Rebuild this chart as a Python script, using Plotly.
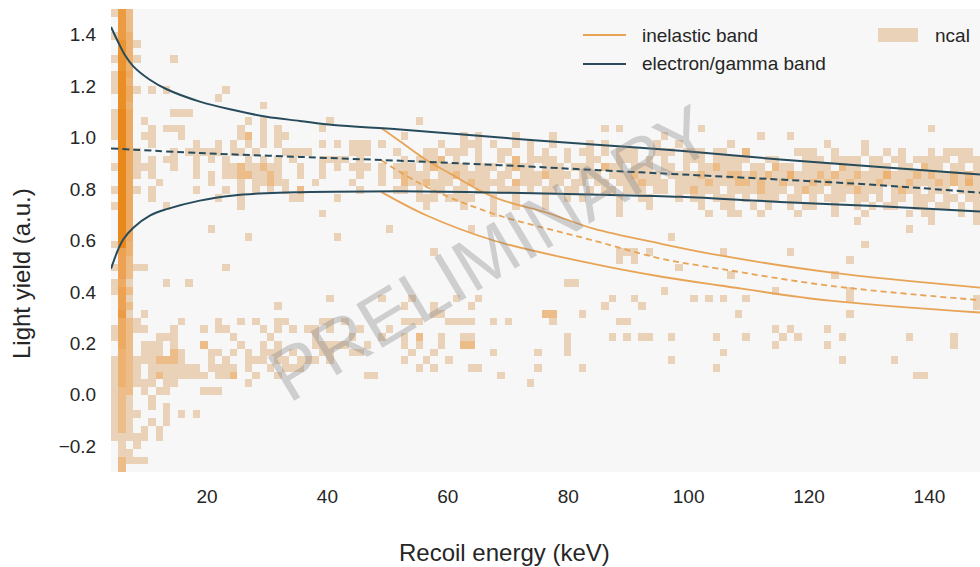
import plotly.graph_objects as go

# ---------------- data ----------------
energy_bin_start = 4.05      # keV, left edge of first histogram column
energy_bin_width = 1.234     # keV
n_energy_bins = 117
ly_bin_top = 1.5             # light yield, top edge of first histogram row
ly_bin_height = 0.03

# ncal 2D histogram, one string per light-yield row (top -> bottom).
# tokens: "col" (1 count), "col:n", "a-b" (range, 1 count), "a-b:n"
ncal_rows = [
    "0 1:6 2:2",
    "1:6 2:2",
    "1:6 2:2",
    "0 1:6 2:3",
    "1:7 2:3 3",
    "1:7 2:3",
    "0 1:7 2:3 3 8",
    "1:7 2:3",
    "0 1:8 2:4",
    "0 1:8 2:3",
    "0 1:8 2:4 3 5 7 15",
    "1:8 2:4 14",
    "1:8 2:3 20",
    "0 1:9 2:4 8-10",
    "0 1:9 2:4 4 18 20 29 41",
    "0 1:9 2:4 5 7-9 17 20 22 28 66 68 79 110",
    "0 1:9 2:4 4-5 9 17 18:2 20 22-23 39 47 49 54 59 74 87 91",
    "1:9 2:4 5 11 14 16 18 20 22 28 30 32-34 36 44 47-49 51 54 56 59 64 66 73 76 83 96 101",
    "1:9 2:4 3 8 10-14 16-17 19 23-26 32-34 38 42-43 45-47 49 52-53 56 58 61 63-64 66 68-70 73-75 77-79 81-82 85:2 92-94 97 101 104 106 110 112-115",
    "1:9 2:4 3 5 7-8 11 13 15 18 20 22 24 28-31 33 39 41-43 44:2 46 49 52 54:2 56-59 61 64-65 68-70 72 74 77-79 81-85 88-89 93-95 97-100 102-103 105-106 108-112 114-116",
    "0 1:9 2:4 3-5 8 11 15-16 17:2 18-19 20:2 21-22 25 28 30 32-34 36 38-40 42 43:2 44-47 49-51 53 54:2 55-56 58-60 62-64 66:2 67-68 70-72 74-75 77 79-80 81:2 82-84 86-87 89:2 90-91 93-96 98:2 99-100 102-104 106-107 109:2 110-111 113-114 116",
    "1:9 2:4 3 5 11 13 15-16 17-18:2 19-20 21:2 22 25 28 33 36 38 39:2 40-42 44-45 46:2 47-50 52-53 55-57 58:2 59-61 63-65 67-69 70:2 71-73 75-78 79:2 80-82 83-84:2 85 86:2 87 88:2 89-90 91:3 92-94 95:2 96 97:2 98-99 100:2 101-103 104:3 105-107 108:2 109 110:2 111-112 113:2 114 115:2 116",
    "1:9 2:4 6 13 17 19-20 21:2 22-23 27 32 36 39:2 40-41 42:2 43-45 47 48:2 49-52 54:2 55-57 59-60 62-63 65-66 68-70 71:2 72-74 76-79 80:2 81-83 84-85:2 86 87:2 88-89 90:2 91-93 94:2 95 96:2 97-98 99:2 100-102 103:2 104-106 107:2 108-110 111:2 112 113:2 114 115:3 116",
    "0 1:9 2:4 3 5 11 15 17 19 21 23 25:2 33 38-39 41 43-44 46-47 49-50 52-54 56 58-59 61-62 64 66-67 69-71 73-74 76-77 78:2 79-81 83-86 87:2 88-90 92 93:2 94-95 97-99 100:2 101-103 105 106:2 107-108 110-112 114-116",
    "1:9 2:4 5 14 17 24-25 30 41-43 45-48 51 54 58 61 63 68 71-72 76 78-79 81-83 85 87-89 91-92 94 96-98 100-101 103 105-106 108-110 112-113 115-116",
    "0 1:9 2:4 7 17 42 47 51 54 58 68 72 79 82-83 86 88 91 93-94 97 100 102 104-105 108-109 111-112 114 116",
    "1:9 2:4 28 51 68 80 83-84 87 92 97 101 107 109-110 114 116",
    "1:9 2:4 100 110 116",
    "1:9 2:4 13 37 48 107",
    "1:9 2:4 18 30 75",
    "0 1:9 2:3 101",
    "1:5 2:3 43 68-70 72 82 91",
    "1:5 2:2 68 70 99",
    "0 1:5 2:2 3 4 15 76",
    "1:5 2:2 83 97",
    "0 1:4 2 7 10 61-62",
    "0 1:5 2:2 74 89 99",
    "1:5 2 29 36 40 46 49 67 70 78 80 82 85 99 116",
    "1:5 2:2 22 39 43 48 66 71 116",
    "1:6 2 4 43-44 58-59:2 63 84 99",
    "1:4 2:2 3 9 14 17 19 22-23 28-29 31 39-41 45-48 51 53 59 68-69",
    "0 1:4 2:2 3 4 8 12 14-15 20 22 24 26-27 29 33 37 89 91 96",
    "0 1:4 2:2 6-8 16 21 27 32 36 39 41:2 44 47-48 61 67 69 71-72 75 81 85 90 92 98 107 113",
    "1:4 2:2 4-6 8 12:2 17 20 22 27-31 34 39 41 44 47-48:2 61 89 96 113",
    "1:3 2:2 4-6 8:2 9 13-14 16 18 20-22 24 28-29 32-33 40 43 51 57 61 82",
    "0 1:3 2:2 3-5 6-8:2 9 13 15 18-20 22-23 25-27 29 39 42 45 75 98 105",
    "0 1:3 2:2 3 5-11 13-16 18 21 23-25 41 43 48-49 57 63 81",
    "0 1:3 2:2 3 5 6:2 7-11 12 14-15 16:2 19 22 34-35 52 108-109",
    "0 1:3 2:2 3-5 7-8 18 56",
    "0 1:2 2:2 4 6-7 12-14",
    "0 1:2 2 5",
    "0 1:2 2 5 7",
    "0 1:2 2 3 7 9 11",
    "0 1:2 2 5 7",
    "0 1:2 2 4 6",
    "0 1 2 3 4 6",
    "1 3",
    "1 2",
    "1:2 2 3 4",
    "1:2",
]

# electron/gamma band
eg_upper_E = [4.05, 5.27, 6.38, 7.76, 10.5, 13.3, 18.8, 24.4, 29.9, 35.4, 41.0, 52.1, 68.7, 85.3, 98.6, 115.2, 131.8, 148.4]
eg_upper_LY = [1.43, 1.37, 1.32, 1.277, 1.225, 1.188, 1.14, 1.107, 1.081, 1.065, 1.049, 1.032, 1.0, 0.971, 0.949, 0.915, 0.886, 0.857]
eg_mean_E = [4.05, 18.8, 35.4, 52.1, 68.7, 85.3, 98.6, 115.2, 131.8, 148.4]
eg_mean_LY = [0.958, 0.94, 0.925, 0.91, 0.893, 0.873, 0.857, 0.837, 0.815, 0.786]
eg_lower_E = [4.05, 5.27, 6.1, 7.76, 10.5, 13.3, 18.8, 24.4, 29.9, 35.4, 41.0, 52.1, 68.7, 85.3, 98.6, 115.2, 131.8, 148.4]
eg_lower_LY = [0.49, 0.567, 0.605, 0.65, 0.697, 0.722, 0.755, 0.775, 0.784, 0.788, 0.79, 0.791, 0.786, 0.778, 0.77, 0.75, 0.733, 0.713]

# inelastic band
in_upper_E = [49.0, 52.1, 56.5, 60.4, 67.6, 77.0, 84.2, 95.3, 105.2, 123.5, 148.4]
in_upper_LY = [1.036, 0.985, 0.912, 0.86, 0.769, 0.704, 0.646, 0.588, 0.542, 0.476, 0.417]
in_mean_E = [49.0, 56.5, 67.6, 84.2, 95.3, 105.2, 123.5, 148.4]
in_mean_LY = [0.911, 0.808, 0.704, 0.6, 0.53, 0.49, 0.424, 0.368]
in_lower_E = [49.0, 56.5, 67.6, 84.2, 95.3, 105.2, 123.5, 148.4]
in_lower_LY = [0.788, 0.697, 0.6, 0.509, 0.46, 0.425, 0.366, 0.32]

x_tick_vals = [20, 40, 60, 80, 100, 120, 140]
y_tick_vals = [-0.2, 0.0, 0.2, 0.4, 0.6, 0.8, 1.0, 1.2, 1.4]
y_tick_text = ["\u22120.2", "0.0", "0.2", "0.4", "0.6", "0.8", "1.0", "1.2", "1.4"]

# ---------------- styling ----------------
W, H = 980, 567
PLOT_L, PLOT_R, PLOT_T, PLOT_B = 111, 980, 9, 472      # window pixels
L, R, T, B = PLOT_L, W - PLOT_R, PLOT_T, H - PLOT_B
PW, PH = PLOT_R - PLOT_L, PLOT_B - PLOT_T
BLUE = "#284b5c"
ORANGE = "#e8a456"
TEXT = "#262626"
FONT = "Liberation Sans, Arial, sans-serif"


def px_x(p):
    return (p - PLOT_L) / PW


def px_y(p):
    return (PLOT_B - p) / PH


def parse_row(s):
    counts = [None] * n_energy_bins
    for tok in s.split():
        if ":" in tok:
            cols, n = tok.split(":")
            n = int(n)
        else:
            cols, n = tok, 1
        if "-" in cols:
            a, b = map(int, cols.split("-"))
        else:
            a = b = int(cols)
        for c in range(a, b + 1):
            counts[c] = n
    return counts


z = [parse_row(s) for s in ncal_rows][::-1]
energy_centers = [energy_bin_start + energy_bin_width * (i + 0.5) for i in range(n_energy_bins)]
ly_centers = [ly_bin_top - ly_bin_height * (j + 0.5) for j in range(len(ncal_rows))][::-1]

fig = go.Figure()
fig.add_trace(go.Heatmap(
    x=energy_centers, y=ly_centers, z=z,
    zmin=1, zmax=9, showscale=False, hoverongaps=False,
    colorscale=[[0.0, "#e9d2b8"], [0.125, "#ecbd89"], [0.25, "#edb272"],
                [0.5, "#eca252"], [0.75, "#ea942f"], [1.0, "#e8881b"]],
))

def line(xs, ys, color, dash=None, width=2.0):
    fig.add_trace(go.Scatter(x=xs, y=ys, mode="lines",
                             line=dict(color=color, width=width, dash=dash, shape="spline", smoothing=1.0),
                             showlegend=False, hoverinfo="skip"))

line(in_upper_E, in_upper_LY, ORANGE, width=1.8)
line(in_mean_E, in_mean_LY, ORANGE, dash="6px,4px", width=1.8)
line(in_lower_E, in_lower_LY, ORANGE, width=1.8)
line(eg_upper_E, eg_upper_LY, BLUE)
line(eg_mean_E, eg_mean_LY, BLUE, dash="7px,4px")
line(eg_lower_E, eg_lower_LY, BLUE)

annotations = [
    dict(text="Recoil energy (keV)", x=px_x(504), y=px_y(552), xref="paper", yref="paper",
         showarrow=False, xanchor="center", yanchor="middle", font=dict(size=24, color=TEXT, family=FONT)),
    dict(text="Light yield (a.u.)", x=px_x(22), y=px_y(274), xref="paper", yref="paper", textangle=-90,
         showarrow=False, xanchor="center", yanchor="middle", font=dict(size=24, color=TEXT, family=FONT)),
    dict(text="inelastic band", x=px_x(640), y=px_y(35), xref="paper", yref="paper",
         showarrow=False, xanchor="left", yanchor="middle", font=dict(size=19, color=TEXT, family=FONT)),
    dict(text="electron/gamma band", x=px_x(640), y=px_y(63), xref="paper", yref="paper",
         showarrow=False, xanchor="left", yanchor="middle", font=dict(size=19, color=TEXT, family=FONT)),
    dict(text="ncal", x=px_x(933), y=px_y(35), xref="paper", yref="paper",
         showarrow=False, xanchor="left", yanchor="middle", font=dict(size=19, color=TEXT, family=FONT)),
    dict(text="PRELIMINARY", x=px_x(490), y=px_y(253), xref="paper", yref="paper", textangle=-31,
         showarrow=False, xanchor="center", yanchor="middle",
         font=dict(size=74, color="rgba(120,120,120,0.32)", family=FONT)),
]

shapes = [
    dict(type="line", xref="paper", yref="paper", x0=px_x(583), x1=px_x(626), y0=px_y(35), y1=px_y(35),
         line=dict(color=ORANGE, width=2)),
    dict(type="line", xref="paper", yref="paper", x0=px_x(583), x1=px_x(626), y0=px_y(64), y1=px_y(64),
         line=dict(color=BLUE, width=2)),
    dict(type="rect", xref="paper", yref="paper", x0=px_x(878), x1=px_x(918), y0=px_y(42), y1=px_y(28),
         fillcolor="#e9d2b8", line=dict(width=0)),
]

fig.update_layout(
    width=W, height=H, margin=dict(l=L, r=R, t=T, b=B),
    paper_bgcolor="white", plot_bgcolor="#f7f7f7",
    font=dict(family=FONT, color=TEXT, size=19),
    showlegend=False,
    annotations=annotations, shapes=shapes,
    xaxis=dict(range=[energy_bin_start, 148.4], tickvals=x_tick_vals, showgrid=False, zeroline=False,
               showline=False, ticks="outside", ticklen=7, tickcolor="rgba(0,0,0,0)",
               tickfont=dict(size=19, color=TEXT, family=FONT)),
    yaxis=dict(range=[-0.3, 1.5], tickvals=y_tick_vals, ticktext=y_tick_text, showgrid=False,
               zeroline=False, showline=False, ticks="outside", ticklen=10, tickcolor="rgba(0,0,0,0)",
               tickfont=dict(size=19, color=TEXT, family=FONT)),
)

# remove the default page margin so the 980x567 figure fills the window exactly
fig.write_html("out.html",
               config={"displayModeBar": False},
               post_script="document.body.style.margin='0';document.body.style.overflow='hidden';")
